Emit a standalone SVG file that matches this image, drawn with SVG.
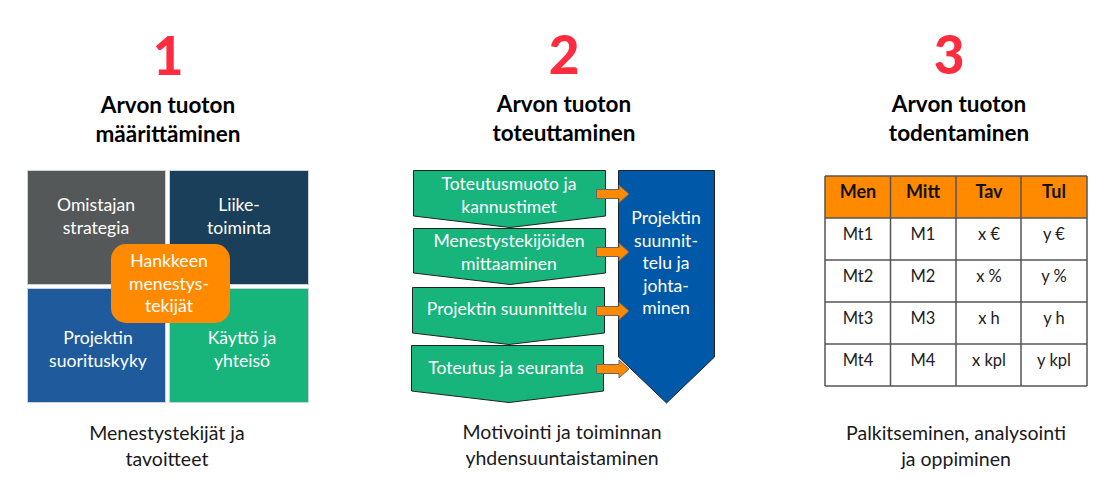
<svg xmlns="http://www.w3.org/2000/svg" width="1116" height="498" viewBox="0 0 1116 498">
<style>
text{font-family:"Lato","Open Sans","Liberation Sans",sans-serif;text-anchor:middle}
.num{font-size:53px;font-weight:900;fill:#fe2c3e}
.head{font-size:22.500px;font-weight:700;fill:#000}
.cap{font-size:19.500px;fill:#1a1a1a}
.w{font-size:17.600px;fill:#fff}
.sq{stroke:#c9d3dc;stroke-width:1}
.pent{fill:#17b47b;stroke:#222;stroke-width:1}
.arr{fill:#ff8a00;stroke:#666;stroke-width:1}
.grid{stroke:#555;stroke-width:1.500;fill:none}
.tb{font-size:18px;font-weight:700;fill:#111}
.tc{font-size:16.500px;fill:#222}
</style>
<g id="column1-heading">
<text class="num" x="168" y="75">1</text>
<text class="head" x="168" y="113">Arvon tuoton</text>
<text class="head" x="168" y="142">määrittäminen</text>
</g>
<g id="column2-heading">
<text class="num" x="564" y="74">2</text>
<text class="head" x="564" y="112">Arvon tuoton</text>
<text class="head" x="564" y="141">toteuttaminen</text>
</g>
<g id="column3-heading">
<text class="num" x="949" y="74">3</text>
<text class="head" x="959" y="112">Arvon tuoton</text>
<text class="head" x="959" y="141">todentaminen</text>
</g>
<g id="node-omistajan">
<rect class="sq" x="27.500" y="170.500" width="138" height="114" fill="#555859"/>
<text class="w" x="96" y="211">Omistajan</text><text class="w" x="96" y="234">strategia</text>
</g>
<g id="node-liike">
<rect class="sq" x="169.500" y="170.500" width="139" height="114" fill="#1a3f5a"/>
<text class="w" x="239" y="211">Liike-</text><text class="w" x="239" y="234">toiminta</text>
</g>
<g id="node-projektin">
<rect class="sq" x="27.500" y="288.500" width="138" height="114" fill="#1f5b9c"/>
<text class="w" x="98" y="344">Projektin</text><text class="w" x="98" y="367">suorituskyky</text>
</g>
<g id="node-kaytto">
<rect class="sq" x="169.500" y="288.500" width="139" height="114" fill="#17b47b"/>
<text class="w" x="242" y="344">Käyttö ja</text><text class="w" x="242" y="367">yhteisö</text>
</g>
<g id="node-hankkeen">
<rect x="111" y="244" width="119" height="79" rx="15" fill="#ff8a00"/>
<text class="w" x="169" y="267">Hankkeen</text><text class="w" x="169" y="290">menestys-</text><text class="w" x="169" y="312">tekijät</text>
</g>
<text class="cap" x="167" y="440">Menestystekijät  ja</text>
<text class="cap" x="167" y="466">tavoitteet</text>
<g id="node-p1">
<path class="pent" d="M413.500 170.500H605.500V216L510 227.500L413.500 216Z"/>
<text class="w" x="509" y="190">Toteutusmuoto ja</text><text class="w" x="509" y="213">kannustimet</text>
</g>
<g id="node-p2">
<path class="pent" d="M413.500 228.500H605.500V273L510 284.500L413.500 273Z"/>
<text class="w" x="509" y="247">Menestystekijöiden</text><text class="w" x="509" y="270">mittaaminen</text>
</g>
<g id="node-p3">
<path class="pent" d="M412.500 287.500H604.500V333L509 344.500L412.500 333Z"/>
<text class="w" x="507" y="315">Projektin suunnittelu</text>
</g>
<g id="node-p4">
<path class="pent" d="M411.500 345.500H603.500V391L509 402.500L411.500 391Z"/>
<text class="w" x="506" y="374">Toteutus ja seuranta</text>
</g>
<g id="node-big">
<path d="M618.500 170.500H714.500V357L666.500 403L618.500 357Z" fill="#0059a8" stroke="#222" stroke-width="1"/>
<text class="w" x="666" y="224">Projektin</text><text class="w" x="666" y="247">suunnit-</text><text class="w" x="666" y="269">telu ja</text><text class="w" x="666" y="292">johta-</text><text class="w" x="666" y="314">minen</text>
</g>
<g id="connectors">
<path class="arr" d="M596.500 189.500H619V185L629 194L619 203V198.500H596.500Z"/>
<path class="arr" d="M596.500 247.500H619V243L629 252L619 261V256.500H596.500Z"/>
<path class="arr" d="M596.500 306.500H619V302L629 311L619 320V315.500H596.500Z"/>
<path class="arr" d="M596.500 364.500H619V360L629 369L619 378V373.500H596.500Z"/>
</g>
<text class="cap" x="562" y="439">Motivointi ja toiminnan</text>
<text class="cap" x="562" y="465">yhdensuuntaistaminen</text>
<g id="table">
<rect x="825" y="176" width="262" height="42" fill="#ff8a00"/>
<path class="grid" d="M825 176V386M890.500 176V386M956 176V386M1021 176V386M1087 176V386M825 176H1087M825 218H1087M825 260H1087M825 302H1087M825 344H1087M825 386H1087"/>
<text class="tb" x="858" y="198">Men</text><text class="tb" x="923" y="198">Mitt</text><text class="tb" x="989" y="198">Tav</text><text class="tb" x="1054" y="198">Tul</text>
<text class="tc" x="858" y="240">Mt1</text><text class="tc" x="923" y="240">M1</text><text class="tc" x="989" y="240">x €</text><text class="tc" x="1054" y="240">y €</text>
<text class="tc" x="858" y="282">Mt2</text><text class="tc" x="923" y="282">M2</text><text class="tc" x="989" y="282">x %</text><text class="tc" x="1054" y="282">y %</text>
<text class="tc" x="858" y="324">Mt3</text><text class="tc" x="923" y="324">M3</text><text class="tc" x="989" y="324">x h</text><text class="tc" x="1054" y="324">y h</text>
<text class="tc" x="858" y="366">Mt4</text><text class="tc" x="923" y="366">M4</text><text class="tc" x="989" y="366">x kpl</text><text class="tc" x="1054" y="366">y kpl</text>
</g>
<text class="cap" x="956" y="440">Palkitseminen, analysointi</text>
<text class="cap" x="956" y="466">ja oppiminen</text>
</svg>
